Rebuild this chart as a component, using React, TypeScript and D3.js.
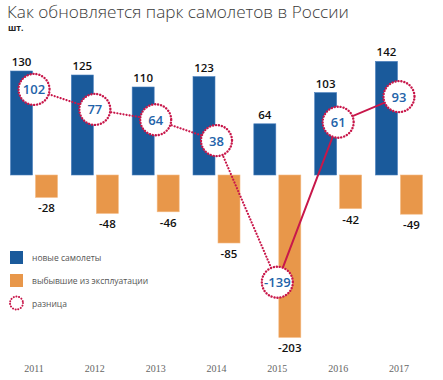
import React from "react";
import * as d3 from "d3";

const years = ["2011", "2012", "2013", "2014", "2015", "2016", "2017"];
const newPlanes = [130, 125, 110, 123, 64, 103, 142];
const retired = [-28, -48, -46, -85, -203, -42, -49];
const diff = [102, 77, 64, 38, -139, 61, 93];

const legendItems = ["новые самолеты", "выбывшие из эксплуатации", "разница"];

const W = 443;
const H = 380;
const BLUE = "#1a5a9b";
const ORANGE = "#e8974a";
const RED = "#c8174a";
const TXTBLUE = "#2363a9";

export default function App() {
  const x = d3.scaleBand<string>().domain(years).range([3, 430]).paddingInner(0.22).paddingOuter(0.12);
  const y = d3.scaleLinear().domain([-203, 142]).range([337.4, 61.4]);
  const yLine = d3.scaleLinear().domain([-203, 142]).range([333.4, 57.4]);
  const bw = 22;
  const gap = 3;
  const cx = (i: number) => (x(years[i]) as number) + x.bandwidth() / 2;
  const blueX = (i: number) => cx(i) - gap / 2 - bw;
  const orX = (i: number) => cx(i) + gap / 2;

  const pts: [number, number][] = diff.map((d, i) => [cx(i), yLine(d)]);
  const line = d3.line();
  const dotted = line(pts.slice(0, 5));
  const solid = line(pts.slice(4));

  return (
    <svg width={W} height={H} style={{ position: "absolute", left: 0, top: 0, background: "#fff" }}>
      <text x={7} y={18} fontFamily="'Open Sans', sans-serif" fontSize={17.2} fontWeight={300} fill="#3a3a3a">
        Как обновляется парк самолетов в России
      </text>
      <text x={8} y={31} fontFamily="'Open Sans', sans-serif" fontSize={8.5} fontWeight={700} fill="#222">
        шт.
      </text>

      {newPlanes.map((v, i) => (
        <g key={"b" + i}>
          <rect x={blueX(i)} y={y(v)} width={bw} height={y(0) - y(v)} fill={BLUE} stroke="#4a7fbd" strokeWidth={0.6} />
          <text x={blueX(i) + bw / 2} y={y(v) - 5} textAnchor="middle" fontFamily="'Open Sans', sans-serif" fontSize={11.5} fontWeight={600} fill="#111">
            {v}
          </text>
        </g>
      ))}
      {retired.map((v, i) => (
        <g key={"o" + i}>
          <rect x={orX(i)} y={y(0)} width={bw} height={y(v) - y(0)} fill={ORANGE} stroke="#f3b983" strokeWidth={0.6} />
          <text x={orX(i) + bw / 2} y={y(v) + 15} textAnchor="middle" fontFamily="'Open Sans', sans-serif" fontSize={11.5} fontWeight={600} fill="#111">
            {v}
          </text>
        </g>
      ))}

      <path d={dotted || ""} fill="none" stroke={RED} strokeWidth={2.2} strokeDasharray="0.1 3" strokeLinecap="round" />
      <path d={solid || ""} fill="none" stroke={RED} strokeWidth={2} />

      {pts.map((p, i) => (
        <g key={"c" + i}>
          <circle cx={p[0]} cy={p[1]} r={15.5} fill="#fff" stroke={RED} strokeWidth={2.4} strokeDasharray="0.1 2.9" strokeLinecap="round" />
          <text x={p[0]} y={p[1] + 5} textAnchor="middle" fontFamily="'Open Sans', sans-serif" fontSize={13} fontWeight={600} fill={TXTBLUE}>
            {diff[i]}
          </text>
        </g>
      ))}

      <rect x={10} y={251} width={13} height={13} fill={BLUE} />
      <rect x={10} y={274} width={13} height={13} fill={ORANGE} />
      <circle cx={16.5} cy={303} r={6.5} fill="#fff" stroke={RED} strokeWidth={2} strokeDasharray="0.1 2.6" strokeLinecap="round" />
      {legendItems.map((t, i) => (
        <text key={t} x={32} y={261 + i * 23} fontFamily="'Open Sans', sans-serif" fontSize={8.5} fill="#555">
          {t}
        </text>
      ))}

      {years.map((yr, i) => (
        <text key={yr} x={cx(i)} y={372} textAnchor="middle" fontFamily="'Liberation Serif', serif" fontSize={10} fill="#666">
          {yr}
        </text>
      ))}
    </svg>
  );
}
